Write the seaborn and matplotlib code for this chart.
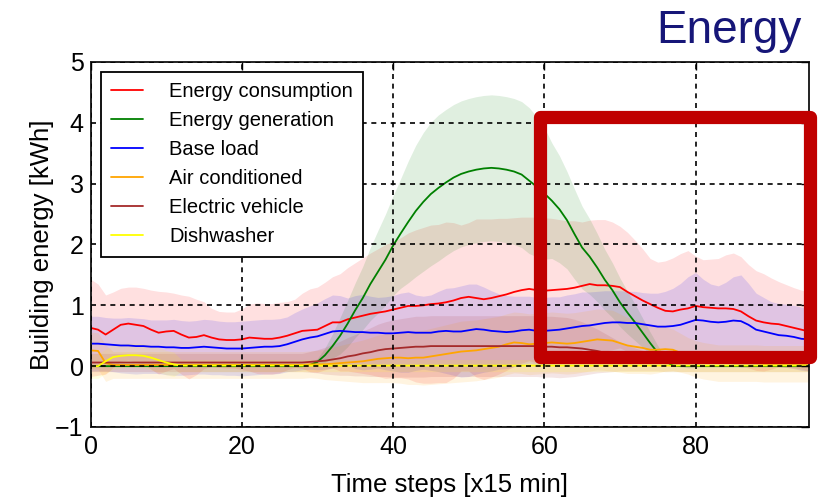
import numpy as np
import pandas as pd
import matplotlib
matplotlib.use("Agg")
import matplotlib.pyplot as plt
import matplotlib.patches as mpatches
from matplotlib.lines import Line2D
import seaborn as sns

# ---------------- data ----------------
time_steps = list(range(96))

consumption_mean = [0.63, 0.60, 0.52, 0.60, 0.68, 0.70, 0.68, 0.66, 0.60, 0.55,
                    0.57, 0.58, 0.52, 0.47, 0.48, 0.51, 0.47, 0.44, 0.43, 0.43,
                    0.44, 0.47, 0.46, 0.45, 0.45, 0.47, 0.50, 0.54, 0.58, 0.59,
                    0.60, 0.66, 0.72, 0.72, 0.77, 0.80, 0.83, 0.86, 0.88, 0.90,
                    0.93, 0.96, 0.99, 0.99, 1.00, 1.02, 1.03, 1.05, 1.08, 1.12,
                    1.14, 1.12, 1.10, 1.12, 1.15, 1.18, 1.22, 1.25, 1.27, 1.25,
                    1.24, 1.25, 1.26, 1.27, 1.29, 1.32, 1.35, 1.33, 1.33, 1.32,
                    1.30, 1.22, 1.15, 1.08, 1.02, 0.96, 0.91, 0.90, 0.93, 0.95,
                    0.99, 0.97, 0.96, 0.95, 0.95, 0.94, 0.90, 0.82, 0.75, 0.72,
                    0.70, 0.69, 0.66, 0.63, 0.60, 0.57]
consumption_std = [0.80, 0.75, 0.65, 0.62, 0.60, 0.60, 0.62, 0.62, 0.65, 0.68,
                   0.65, 0.62, 0.65, 0.68, 0.62, 0.55, 0.48, 0.46, 0.46, 0.46,
                   0.50, 0.55, 0.58, 0.58, 0.58, 0.58, 0.56, 0.56, 0.62, 0.68,
                   0.70, 0.72, 0.75, 0.80, 0.85, 0.90, 0.95, 1.00, 1.05, 1.10,
                   1.12, 1.15, 1.20, 1.25, 1.28, 1.30, 1.30, 1.32, 1.28, 1.20,
                   1.22, 1.30, 1.32, 1.30, 1.28, 1.25, 1.22, 1.20, 1.18, 1.20,
                   1.20, 1.18, 1.15, 1.12, 1.10, 1.05, 1.05, 1.08, 1.08, 1.05,
                   1.00, 0.98, 0.92, 0.85, 0.75, 0.75, 0.82, 0.88, 0.92, 0.95,
                   0.82, 0.78, 0.80, 0.82, 0.88, 0.92, 0.90, 0.85, 0.82, 0.80,
                   0.75, 0.70, 0.68, 0.66, 0.65, 0.65]

generation_mean = [0.0] * 29 + [
                   0.02, 0.07, 0.18, 0.33, 0.50, 0.70, 0.92, 1.12, 1.35, 1.55,
                   1.75, 1.98, 2.18, 2.37, 2.55, 2.70, 2.83, 2.93, 3.02, 3.10,
                   3.16, 3.20, 3.23, 3.25, 3.26, 3.25, 3.23, 3.20, 3.15, 3.05,
                   2.95, 2.84, 2.72, 2.58, 2.40, 2.17, 1.95, 1.80, 1.62, 1.42,
                   1.25, 1.05, 0.88, 0.72, 0.55, 0.38, 0.22, 0.08, 0.01] + [0.0] * 18
generation_std = [0.0] * 29 + [
                  0.02, 0.06, 0.12, 0.20, 0.30, 0.38, 0.45, 0.52, 0.60, 0.68,
                  0.75, 0.82, 0.90, 1.00, 1.08, 1.14, 1.18, 1.20, 1.20, 1.20,
                  1.20, 1.20, 1.20, 1.20, 1.20, 1.20, 1.20, 1.20, 1.20, 1.20,
                  1.15, 1.08, 0.95, 0.88, 0.80, 0.74, 0.68, 0.62, 0.56, 0.50,
                  0.45, 0.40, 0.35, 0.30, 0.24, 0.18, 0.12, 0.06, 0.02] + [0.0] * 18

base_mean = [0.37, 0.37, 0.36, 0.35, 0.34, 0.34, 0.33, 0.33, 0.32, 0.32,
             0.31, 0.31, 0.30, 0.30, 0.31, 0.32, 0.31, 0.30, 0.29, 0.29,
             0.29, 0.30, 0.31, 0.32, 0.32, 0.33, 0.36, 0.40, 0.44, 0.47,
             0.49, 0.53, 0.57, 0.58, 0.57, 0.56, 0.56, 0.55, 0.55, 0.54,
             0.54, 0.55, 0.56, 0.55, 0.55, 0.55, 0.57, 0.58, 0.57, 0.57,
             0.59, 0.61, 0.60, 0.58, 0.57, 0.56, 0.57, 0.59, 0.60, 0.58,
             0.58, 0.59, 0.60, 0.62, 0.64, 0.66, 0.67, 0.69, 0.71, 0.72,
             0.72, 0.71, 0.71, 0.69, 0.67, 0.65, 0.65, 0.66, 0.68, 0.72,
             0.76, 0.75, 0.73, 0.72, 0.73, 0.75, 0.74, 0.68, 0.60, 0.57,
             0.54, 0.51, 0.50, 0.48, 0.45, 0.44]
base_std = [0.45, 0.45, 0.44, 0.44, 0.45, 0.46, 0.46, 0.45, 0.44, 0.44,
            0.45, 0.46, 0.45, 0.44, 0.44, 0.45, 0.45, 0.44, 0.44, 0.44,
            0.45, 0.45, 0.45, 0.45, 0.45, 0.45, 0.45, 0.48, 0.50, 0.52,
            0.55, 0.58, 0.60, 0.58, 0.55, 0.60, 0.62, 0.60, 0.58, 0.60,
            0.62, 0.65, 0.66, 0.62, 0.60, 0.62, 0.66, 0.70, 0.72, 0.75,
            0.76, 0.74, 0.70, 0.66, 0.62, 0.60, 0.58, 0.56, 0.55, 0.55,
            0.55, 0.55, 0.54, 0.55, 0.55, 0.56, 0.55, 0.54, 0.53, 0.52,
            0.52, 0.52, 0.52, 0.52, 0.53, 0.55, 0.58, 0.62, 0.68, 0.75,
            0.78, 0.68, 0.62, 0.60, 0.65, 0.72, 0.76, 0.68, 0.60, 0.56,
            0.52, 0.52, 0.52, 0.52, 0.52, 0.52]

ac_mean = [0.26, 0.25, 0.05, 0.02, 0.02, 0.02, 0.02, 0.02, 0.02, 0.02,
           0.02, 0.02, 0.02, 0.02, 0.02, 0.02, 0.02, 0.02, 0.02, 0.02,
           0.02, 0.02, 0.02, 0.02, 0.02, 0.02, 0.02, 0.02, 0.02, 0.03,
           0.03, 0.03, 0.04, 0.05, 0.06, 0.07, 0.08, 0.10, 0.12, 0.13,
           0.14, 0.14, 0.13, 0.14, 0.14, 0.16, 0.18, 0.20, 0.22, 0.24,
           0.25, 0.26, 0.28, 0.30, 0.32, 0.36, 0.39, 0.38, 0.36, 0.37,
           0.38, 0.39, 0.38, 0.37, 0.38, 0.40, 0.42, 0.44, 0.43, 0.42,
           0.38, 0.34, 0.32, 0.30, 0.27, 0.27, 0.28, 0.27, 0.22, 0.17,
           0.12, 0.09, 0.07, 0.05, 0.05, 0.05, 0.05, 0.05, 0.05, 0.04,
           0.04, 0.04, 0.04, 0.04, 0.04, 0.04]
ac_std = [0.30] * 3 + [0.22] * 27 + [
          0.23, 0.25, 0.27, 0.29, 0.31, 0.33, 0.35, 0.37, 0.39, 0.40,
          0.41, 0.42, 0.43, 0.44, 0.45, 0.46, 0.47, 0.48, 0.49, 0.50,
          0.50, 0.50, 0.50, 0.50, 0.50, 0.50, 0.50, 0.50, 0.50, 0.50,
          0.50, 0.50, 0.50, 0.50, 0.50, 0.50, 0.50, 0.50, 0.50, 0.50,
          0.48, 0.46, 0.44, 0.42, 0.40, 0.38, 0.36, 0.34, 0.32, 0.30] + [0.30] * 16

ev_mean = [0.06] * 29 + [
           0.07, 0.08, 0.09, 0.11, 0.13, 0.16, 0.18, 0.21, 0.23, 0.26,
           0.28, 0.29, 0.30, 0.31, 0.32, 0.32, 0.33, 0.33, 0.33, 0.33,
           0.33, 0.33, 0.33, 0.33, 0.33, 0.33, 0.33, 0.33, 0.33, 0.33,
           0.33, 0.32, 0.32, 0.31, 0.31, 0.30, 0.29, 0.27, 0.25, 0.22,
           0.19, 0.16, 0.13, 0.11, 0.09, 0.08, 0.07] + [0.06] * 20
ev_std = [0.15] * 29 + [
          0.17, 0.19, 0.22, 0.25, 0.28, 0.31, 0.34, 0.37, 0.40, 0.43,
          0.45, 0.47, 0.48, 0.49, 0.50, 0.50, 0.50, 0.50, 0.50, 0.50,
          0.50, 0.50, 0.50, 0.50, 0.50, 0.50, 0.50, 0.50, 0.50, 0.50,
          0.50, 0.50, 0.50, 0.50, 0.49, 0.47, 0.44, 0.40, 0.36, 0.32,
          0.28, 0.24, 0.21, 0.19, 0.17, 0.16, 0.15] + [0.15] * 20

dishwasher_mean = [0.00, 0.00, 0.08, 0.15, 0.17, 0.18, 0.18, 0.17, 0.14, 0.10,
                   0.06, 0.03] + [0.01] * 84
dishwasher_std = [0.20] * 12 + [0.10] * 84

series_names = ["Energy consumption", "Energy generation", "Base load",
                "Air conditioned", "Electric vehicle", "Dishwasher"]
series_colors = ["#ff0000", "#008000", "#0000ff", "#ffa500", "#a52a2a", "#ffff00"]
means = [consumption_mean, generation_mean, base_mean, ac_mean, ev_mean, dishwasher_mean]
stds = [consumption_std, generation_std, base_std, ac_std, ev_std, dishwasher_std]

x_ticks = [0, 20, 40, 60, 80]
y_ticks = [-1, 0, 1, 2, 3, 4, 5]

# ---------------- style ----------------
sns.set_style("white")
plt.rcParams["font.family"] = ["Liberation Sans", "DejaVu Sans"]
plt.rcParams["axes.unicode_minus"] = True
plt.rcParams["text.color"] = "black"
plt.rcParams["axes.labelcolor"] = "black"
plt.rcParams["xtick.color"] = "black"
plt.rcParams["ytick.color"] = "black"

W, H = 821, 497
fig = plt.figure(figsize=(W / 100, H / 100), dpi=100)
ax = fig.add_axes([90.5 / W, 1 - 427 / H, (809 - 90.5) / W, (427 - 62) / H])

rows = []
for name, m in zip(series_names, means):
    for t, v in zip(time_steps, m):
        rows.append({"t": t, "value": v, "series": name})
df = pd.DataFrame(rows)

t_arr = np.array(time_steps)
for name, col, m, s in zip(series_names, series_colors, means, stds):
    m = np.array(m); s = np.array(s)
    ax.fill_between(t_arr, m - s, m + s, color=col, alpha=0.12, lw=0, zorder=1)

sns.lineplot(data=df, x="t", y="value", hue="series", hue_order=series_names,
             palette=dict(zip(series_names, series_colors)), ax=ax,
             legend=False, linewidth=1.3, zorder=2)

ax.set_xlim(0, 95)
ax.set_ylim(-1, 5)
ax.set_xticks(x_ticks)
ax.set_yticks(y_ticks)
ax.set_yticklabels(["\u22121"] + [str(v) for v in y_ticks[1:]])
ax.tick_params(direction="in", length=6, width=1.0, top=True, right=True,
               labelsize=18, pad=5, colors="black")
ax.tick_params(axis="x", pad=6)
for sp in ax.spines.values():
    sp.set_color("#222222")
    sp.set_linewidth(1.4)
ax.set_axisbelow(False)
ax.grid(True, color="black", linestyle=(0, (3, 2.8)), linewidth=1.2, zorder=3)

ax.set_xlabel("Time steps [x15 min]", fontsize=18.5, labelpad=10, color="black")
ax.set_ylabel("Building energy [kWh]", fontsize=18.5, labelpad=1, color="black")

handles = [Line2D([0], [0], color=c, lw=1.3) for c in series_colors]
leg = ax.legend(handles, series_names, loc="upper left", fontsize=14.5,
                frameon=True, fancybox=False, framealpha=1, edgecolor="black",
                borderaxespad=0.5, handlelength=1.6, handletextpad=1.3,
                labelspacing=0.5, borderpad=0.5)
leg.get_frame().set_linewidth(1.3)
leg.set_zorder(5)
for txt in leg.get_texts():
    txt.set_color("black")

fig.text(802 / W, 1 - 43 / H, "Energy", ha="right", va="baseline",
         fontsize=33, color="#161678")

rect = mpatches.Rectangle((539.7 / W, 1 - 356.7 / H), (810 - 539.7) / W,
                          (356.7 - 117) / H, transform=fig.transFigure,
                          fill=False, edgecolor="#c00000", linewidth=9.5,
                          joinstyle="round", clip_on=False, zorder=10)
fig.patches.append(rect)

fig.savefig("out.png", dpi=100)
